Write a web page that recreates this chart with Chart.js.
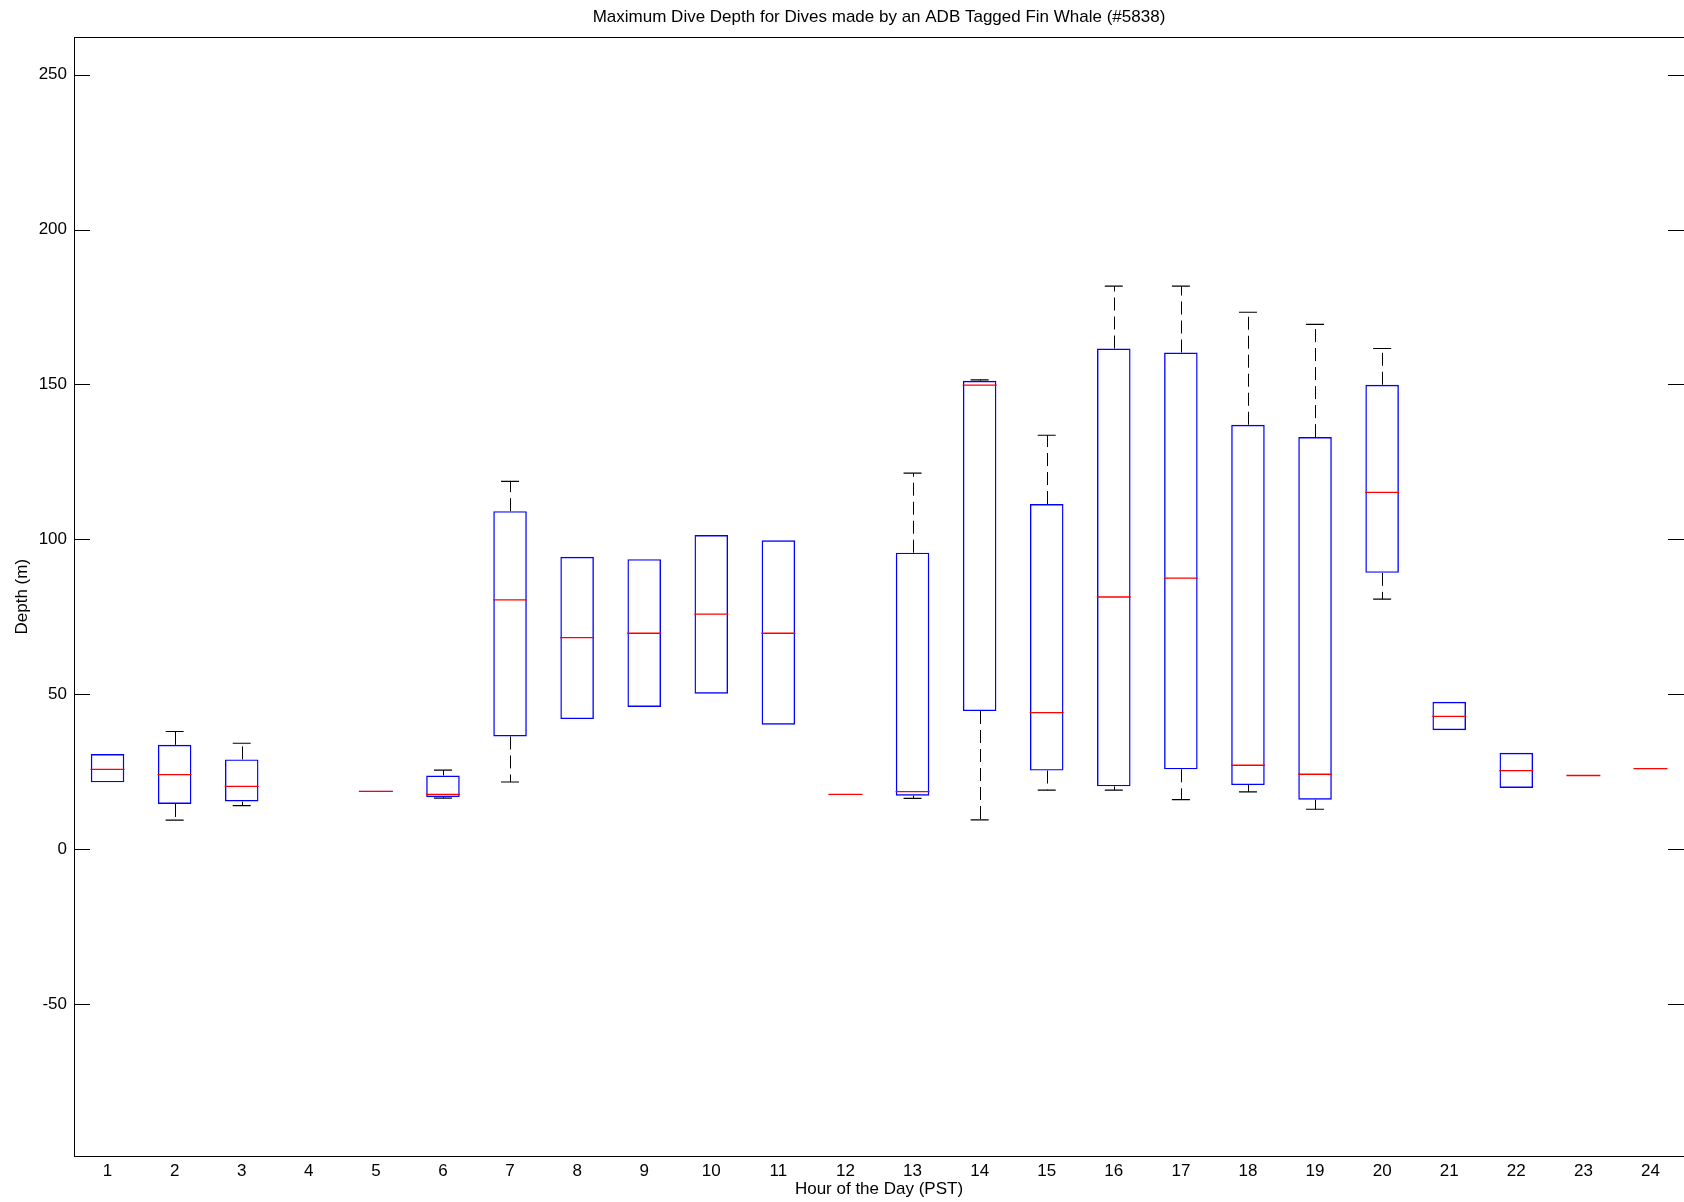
<!DOCTYPE html>
<html>
<head>
<meta charset="utf-8">
<title>Maximum Dive Depth</title>
<script src="https://cdn.jsdelivr.net/npm/chart.js@4.4.1/dist/chart.umd.min.js"></script>
<style>
  html, body { margin: 0; padding: 0; background: #fff; overflow: hidden; }
</style>
</head>
<body>
<canvas id="depthChart" width="1684" height="1202"></canvas>
<script>
// Hour of the day (PST) categories
const hours = ['1', '2', '3', '4', '5', '6', '7', '8', '9', '10', '11', '12',
               '13', '14', '15', '16', '17', '18', '19', '20', '21', '22', '23', '24'];

// box plot statistics per hour, depth in metres (null = no dives that hour)
const whiskerLow  = [21.6,  9.4, 14.1, null, 18.5, 16.5, 21.7, 42.0, 45.9, 50.2, 40.2, 17.7,
                     16.4,  9.5, 19.1, 19.1, 16.0, 18.5, 12.9, 80.7, 38.4, 19.8, 23.8, 26.0];
const boxQ1       = [21.6, 14.6, 15.4, null, 18.5, 16.8, 36.4, 42.0, 45.9, 50.2, 40.2, 17.7,
                     17.3, 44.6, 25.4, 20.3, 25.8, 20.7, 16.0, 89.2, 38.4, 19.8, 23.8, 26.0];
const boxMedian   = [25.8, 24.1, 20.3, null, 18.7, 17.7, 80.5, 68.3, 69.7, 75.9, 69.7, 17.7,
                     18.6, 149.8, 44.1, 81.4, 87.5, 27.1, 24.2, 115.2, 42.9, 25.4, 23.8, 26.0];
const boxQ3       = [30.7, 33.7, 29.0, null, 18.9, 23.8, 109.1, 94.4, 93.6, 101.4, 99.7, 17.7,
                     95.7, 151.2, 111.4, 161.6, 160.3, 137.0, 133.0, 149.9, 47.6, 31.1, 23.8, 26.0];
const whiskerHigh = [30.7, 38.0, 34.2, null, 18.9, 25.5, 118.7, 94.4, 93.6, 101.4, 99.7, 17.7,
                     121.4, 151.5, 133.6, 181.7, 181.7, 173.3, 169.4, 161.6, 47.6, 31.1, 23.8, 26.0];

const yTicks = [-50, 0, 50, 100, 150, 200, 250];
const yMin = -99;
const yMax = 262;

Chart.defaults.font.family = '"Liberation Sans", Arial, sans-serif';
Chart.defaults.font.size = 17;
Chart.defaults.color = '#000';

// dashed whiskers from box edge to the whisker end
const whiskerPlugin = {
    id: 'whiskers',
    beforeDatasetsDraw(chart) {
        const { ctx, scales: { x, y } } = chart;
        ctx.save();
        ctx.strokeStyle = '#000';
        ctx.lineWidth = 1;
        ctx.setLineDash([13, 6]);
        hours.forEach((h, i) => {
            if (boxQ1[i] == null) return;
            const px = Math.round(x.getPixelForValue(i)) + 0.5;
            if (whiskerHigh[i] > boxQ3[i]) {
                ctx.beginPath();
                ctx.moveTo(px, y.getPixelForValue(boxQ3[i]));
                ctx.lineTo(px, y.getPixelForValue(whiskerHigh[i]));
                ctx.stroke();
            }
            if (whiskerLow[i] < boxQ1[i]) {
                ctx.beginPath();
                ctx.moveTo(px, y.getPixelForValue(boxQ1[i]));
                ctx.lineTo(px, y.getPixelForValue(whiskerLow[i]));
                ctx.stroke();
            }
        });
        ctx.restore();
    }
};

// axes box with inward ticks on both sides (matlab style); right side runs off the picture
const framePlugin = {
    id: 'frame',
    afterDraw(chart) {
        const { ctx, chartArea: a, scales: { y } } = chart;
        ctx.save();
        ctx.strokeStyle = '#000';
        ctx.lineWidth = 1;
        ctx.strokeRect(Math.round(a.left) + 0.5, Math.round(a.top) + 0.5,
                       Math.round(a.right - a.left), Math.round(a.bottom - a.top));
        y.ticks.forEach(t => {
            const py = Math.round(y.getPixelForValue(t.value)) + 0.5;
            ctx.beginPath();
            ctx.moveTo(a.left, py);
            ctx.lineTo(a.left + 16, py);
            ctx.moveTo(a.right - 16, py);
            ctx.lineTo(a.right, py);
            ctx.stroke();
        });
        ctx.restore();
    }
};

const ctx = document.getElementById('depthChart');
new Chart(ctx, {
    data: {
        labels: hours,
        datasets: [
            {
                type: 'line',
                label: 'Median',
                data: boxMedian,
                showLine: false,
                pointStyle: 'line',
                pointRadius: 17,
                pointHoverRadius: 17,
                pointBorderColor: '#ff0000',
                pointBorderWidth: 1.3,
                order: 0
            },
            {
                type: 'bar',
                label: 'Box',
                data: hours.map((h, i) => (boxQ1[i] == null || boxQ1[i] === boxQ3[i]) ? null : [boxQ1[i], boxQ3[i]]),
                backgroundColor: 'rgba(0,0,0,0)',
                borderColor: '#0000ff',
                borderWidth: 1.4,
                borderSkipped: false,
                categoryPercentage: 1,
                barPercentage: 0.5,
                order: 1
            },
            {
                type: 'line',
                label: 'Upper adjacent',
                data: hours.map((h, i) => whiskerHigh[i] > boxQ3[i] ? whiskerHigh[i] : null),
                showLine: false,
                pointStyle: 'line',
                pointRadius: 9,
                pointHoverRadius: 9,
                pointBorderColor: '#000',
                pointBorderWidth: 1.2,
                order: 2
            },
            {
                type: 'line',
                label: 'Lower adjacent',
                data: hours.map((h, i) => whiskerLow[i] < boxQ1[i] ? whiskerLow[i] : null),
                showLine: false,
                pointStyle: 'line',
                pointRadius: 9,
                pointHoverRadius: 9,
                pointBorderColor: '#000',
                pointBorderWidth: 1.2,
                order: 2
            }
        ]
    },
    options: {
        responsive: false,
        animation: false,
        devicePixelRatio: 1,
        layout: { autoPadding: false, padding: { left: 0, right: -2, top: 0, bottom: 0 } },
        plugins: {
            legend: { display: false },
            tooltip: { enabled: false },
            title: {
                display: true,
                text: 'Maximum Dive Depth for Dives made by an ADB Tagged Fin Whale (#5838)',
                fullSize: false,
                font: { size: 17, weight: 'normal' },
                padding: { top: 7, bottom: 10 }
            }
        },
        scales: {
            x: {
                type: 'category',
                offset: true,
                grid: { display: false, drawTicks: false },
                border: { display: false },
                ticks: { padding: 5, maxRotation: 0, autoSkip: false },
                title: {
                    display: true,
                    text: 'Hour of the Day (PST)',
                    padding: { top: 0, bottom: 2 }
                },
                afterFit(scale) { scale.height = 46; }
            },
            y: {
                type: 'linear',
                min: yMin,
                max: yMax,
                grid: { display: false, drawTicks: false },
                border: { display: false },
                ticks: { padding: 7 },
                afterBuildTicks(scale) { scale.ticks = yTicks.map(v => ({ value: v })); },
                title: {
                    display: true,
                    text: 'Depth (m)',
                    padding: { top: 12, bottom: 0 }
                },
                afterFit(scale) { scale.width = 74; }
            }
        }
    },
    plugins: [whiskerPlugin, framePlugin]
});
</script>
</body>
</html>
